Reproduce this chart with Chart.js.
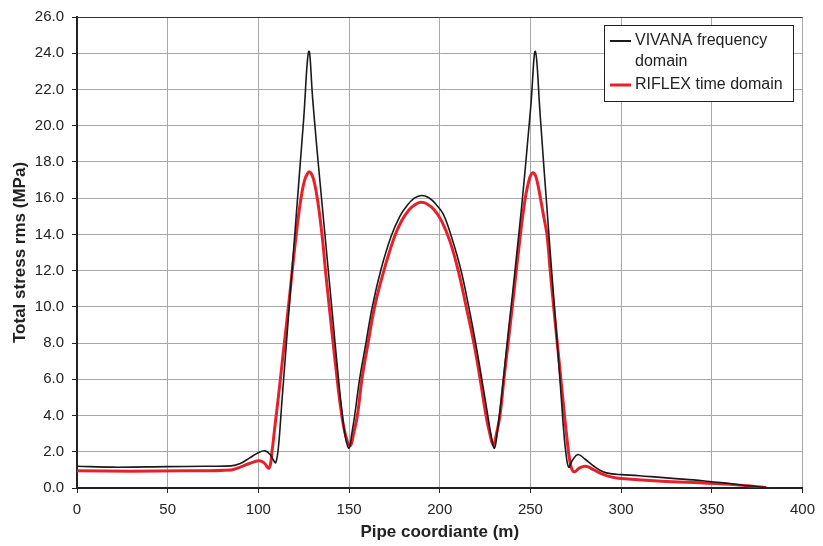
<!DOCTYPE html>
<html>
<head>
<meta charset="utf-8">
<script src="https://cdn.jsdelivr.net/npm/chart.js@4/dist/chart.umd.min.js"></script>
<style>
  html, body { margin: 0; padding: 0; background: #fff; }
  #wrap { width: 823px; height: 546px; }
</style>
</head>
<body>
<div id="wrap"><canvas id="chart" width="823" height="546"></canvas></div>
<script>
// stress along the pipe, frequency domain result
var vivanaX = [0, 20, 50, 70, 85, 90, 95, 100, 103.7, 106.5, 108.5, 109.6, 111, 113, 115, 117, 119, 121, 123, 125, 127.8, 130, 132.4, 135, 138, 141, 144, 146, 148, 150, 151.5, 153.1, 155.8, 159.3, 162.8, 167.7, 173.2, 178, 182, 186, 190, 194, 198, 202, 206.5, 211.5, 216, 219.8, 223.2, 226.5, 228.5, 230.2, 232, 234, 236, 238, 240, 242, 244, 246, 248, 250.3, 252.7, 255.3, 257, 259, 261, 263, 265, 267, 268.3, 269.6, 271.1, 273, 276.2, 280, 285, 290, 295, 300, 310, 320, 330, 340, 351, 360, 370, 380];
var vivanaY = [1.2, 1.15, 1.18, 1.2, 1.22, 1.35, 1.65, 1.95, 2.05, 1.85, 1.5, 1.4, 2.2, 4.8, 7.4, 10.0, 12.6, 15.2, 17.8, 20.4, 24.1, 21.4, 18.6, 15.8, 12.6, 9.4, 6.2, 4.3, 2.8, 2.2, 3.0, 4.0, 6.0, 8.0, 10.0, 12.1, 13.9, 15.0, 15.6, 16.0, 16.15, 16.02, 15.65, 15.1, 13.85, 12.1, 10.0, 8.0, 6.0, 4.0, 2.8, 2.2, 3.3, 5.0, 6.9, 8.8, 10.6, 12.5, 14.4, 16.4, 18.6, 21.2, 24.1, 20.7, 18.3, 15.6, 12.9, 10.3, 7.7, 5.0, 3.2, 1.9, 1.15, 1.5, 1.85, 1.6, 1.2, 0.9, 0.78, 0.74, 0.68, 0.6, 0.52, 0.45, 0.33, 0.25, 0.12, 0.02];

// stress along the pipe, time domain result
var riflexX = [0, 30, 60, 85, 90, 95, 100.4, 103, 105.9, 107.5, 109, 111, 113, 115, 117, 119, 121, 122.5, 124, 125.5, 127, 128.1, 129.5, 131, 132.5, 134, 135.5, 137, 139, 141, 143, 145, 147, 149, 150.8, 152.5, 154.6, 157.1, 160.5, 164.1, 169.2, 175, 179, 183, 186.5, 189.6, 193, 197, 201, 205.7, 210.2, 214.6, 218.8, 222.3, 225.5, 227.6, 229.5, 231.3, 233.2, 235.4, 237.7, 240, 242.2, 244.5, 246, 247.5, 249, 250.3, 251.5, 252.8, 254.2, 255.7, 257.3, 259.1, 260.9, 262.8, 264.8, 266.8, 268.8, 270.4, 271.7, 273, 274.4, 277, 280.5, 285, 290, 295, 300, 320, 340, 360, 370, 380];
var riflexY = [0.95, 0.93, 0.95, 1.0, 1.15, 1.35, 1.5, 1.4, 1.1, 2.0, 3.3, 5.0, 6.8, 8.6, 10.4, 12.3, 14.1, 15.3, 16.3, 17.0, 17.35, 17.45, 17.3, 16.8, 16.0, 14.9, 13.6, 12.0, 10.1, 8.2, 6.4, 4.7, 3.4, 2.6, 2.35, 3.0, 4.0, 6.0, 8.0, 10.0, 12.0, 13.85, 14.75, 15.35, 15.65, 15.77, 15.68, 15.35, 14.75, 13.6, 12.0, 10.0, 8.0, 6.0, 4.0, 3.0, 2.37, 3.0, 4.0, 6.0, 8.0, 10.0, 12.0, 14.0, 15.2, 16.2, 16.9, 17.3, 17.4, 17.25, 16.7, 15.9, 15.0, 14.0, 12.0, 10.0, 8.0, 6.0, 4.0, 2.5, 1.5, 1.0, 0.9, 1.1, 1.2, 1.0, 0.75, 0.6, 0.52, 0.38, 0.3, 0.2, 0.12, 0.03];

var seriesNames = ["VIVANA frequency domain", "RIFLEX time domain"];
var legendLines = [["VIVANA frequency", "domain"], ["RIFLEX time domain"]];
var seriesColors = ["#1a1a1a", "#e8202a"];

function toPoints(xs, ys) {
  var pts = [];
  for (var i = 0; i < xs.length; i++) pts.push({ x: xs[i], y: ys[i] });
  return pts;
}

var FONT = "'Liberation Sans', Arial, sans-serif";

// box legend drawn by hand so the first entry can wrap onto two lines
var boxLegend = {
  id: "boxLegend",
  afterDraw: function (chart) {
    var ctx = chart.ctx;
    var left = 604, top = 25, w = 189, h = 76;
    ctx.save();
    ctx.fillStyle = "#fff";
    ctx.fillRect(left, top, w, h);
    ctx.strokeStyle = "#222";
    ctx.lineWidth = 1;
    ctx.strokeRect(left + 0.5, top + 0.5, w, h);
    ctx.font = "16px " + FONT;
    ctx.textBaseline = "middle";
    ctx.fillStyle = "#222";
    var rowY = [41, 85];
    for (var i = 0; i < legendLines.length; i++) {
      ctx.strokeStyle = seriesColors[i];
      ctx.lineWidth = i === 0 ? 2 : 3;
      ctx.beginPath();
      ctx.moveTo(610, rowY[i]);
      ctx.lineTo(631, rowY[i]);
      ctx.stroke();
      for (var j = 0; j < legendLines[i].length; j++) {
        ctx.fillText(legendLines[i][j], 635, rowY[i] + j * 21);
      }
    }
    ctx.restore();
  }
};

// thin frame along the top edge of the plot
var topFrame = {
  id: "topFrame",
  afterDatasetsDraw: function (chart) {
    var a = chart.chartArea, ctx = chart.ctx;
    ctx.save();
    ctx.strokeStyle = "#333";
    ctx.lineWidth = 1;
    ctx.beginPath();
    ctx.moveTo(a.left, a.top + 0.5);
    ctx.lineTo(a.right, a.top + 0.5);
    ctx.stroke();
    ctx.restore();
  }
};

var ctx = document.getElementById("chart").getContext("2d");
var chart = new Chart(ctx, {
  type: "line",
  data: {
    datasets: [
      {
        label: seriesNames[0],
        data: toPoints(vivanaX, vivanaY),
        borderColor: seriesColors[0],
        borderWidth: 1.6,
        pointRadius: 0,
        tension: 0.4,
        order: 0
      },
      {
        label: seriesNames[1],
        data: toPoints(riflexX, riflexY),
        borderColor: seriesColors[1],
        borderWidth: 3,
        pointRadius: 0,
        tension: 0.4,
        order: 1
      }
    ]
  },
  options: {
    responsive: false,
    animation: false,
    layout: { padding: { top: 16, right: 17, left: 0, bottom: 0 } },
    plugins: {
      legend: { display: false },
      tooltip: { enabled: false }
    },
    scales: {
      x: {
        type: "linear",
        min: 0,
        max: 400,
        ticks: {
          stepSize: 50,
          padding: 8,
          color: "#222",
          font: { family: FONT, size: 15 }
        },
        grid: { color: "#a8a8a8", lineWidth: 1, tickColor: "#222", tickLength: 5 },
        border: { color: "#222", width: 2 },
        title: {
          display: true,
          text: "Pipe coordiante (m)",
          color: "#222",
          font: { family: FONT, size: 17, weight: "bold" },
          padding: { top: 2, bottom: 3 }
        },
        afterFit: function (scale) { scale.height = 58; }
      },
      y: {
        min: 0,
        max: 26,
        ticks: {
          stepSize: 2,
          padding: 8,
          color: "#222",
          font: { family: FONT, size: 15 },
          callback: function (v) { return v.toFixed(1); }
        },
        grid: { color: "#a8a8a8", lineWidth: 1, tickColor: "#222", tickLength: 5 },
        border: { color: "#222", width: 2 },
        title: {
          display: true,
          text: "Total stress rms (MPa)",
          color: "#222",
          font: { family: FONT, size: 17, weight: "bold" },
          padding: { top: 10, bottom: 0 }
        },
        afterFit: function (scale) { scale.width = 77; }
      }
    }
  },
  plugins: [topFrame, boxLegend]
});
</script>
</body>
</html>
